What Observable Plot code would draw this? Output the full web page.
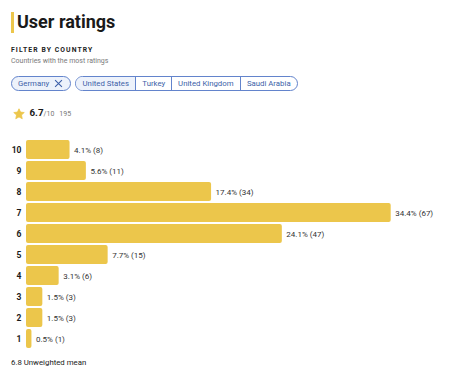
<!DOCTYPE html>
<html>
<head>
<meta charset="utf-8">
<script src="https://cdn.jsdelivr.net/npm/d3@7"></script>
<script src="https://cdn.jsdelivr.net/npm/@observablehq/plot@0.6"></script>
<style>
  html, body { margin: 0; padding: 0; background: #fff; }
  body { width: 462px; height: 386px; position: relative; font-family: Roboto, "Noto Sans", sans-serif; color: #1a1a1a; overflow: hidden; }
  .abs { position: absolute; line-height: 1; white-space: nowrap; }
  #accent { left: 11px; top: 12px; width: 2.5px; height: 21px; background: #ecc64b; }
  #title { left: 17px; top: 13px; font-size: 18px; font-weight: 700; color: #1a1a1a; }
  #filter { left: 11px; top: 47px; font-size: 6.8px; font-weight: 700; letter-spacing: 1.1px; color: #222; }
  #sub { left: 11px; top: 57.6px; font-size: 7px; color: #7a7a7a; }
  .pill { position: absolute; top: 76px; height: 15px; box-sizing: border-box; border: 1px solid #6384cc; border-radius: 8px; display: flex; align-items: stretch; overflow: hidden; font-size: 7.8px; color: #3d5fa8; }
  .pill span { display: flex; align-items: center; justify-content: center; box-sizing: border-box; }
  #germany { left: 11px; width: 60px; background: #edf2fb; padding-left: 6px; justify-content: flex-start; }
  #germany span { justify-content: flex-start; }
  #group { left: 75px; width: 223px; }
  #group span + span { border-left: 1px solid #6384cc; }
  #stats { left: 13px; top: 108px; display: flex; align-items: baseline; }
  #rating { font-size: 9.8px; font-weight: 700; color: #1a1a1a; margin-left: 4.5px; }
  #outof { font-size: 7px; color: #777; }
  #n { font-size: 7px; color: #777; margin-left: 5px; }
  #chart { position: absolute; left: 0; top: 130px; }
  #foot { left: 11px; top: 359.4px; font-size: 7.8px; color: #1a1a1a; font-weight: 400; }
</style>
</head>
<body>
<div id="accent" class="abs"></div>
<div id="title" class="abs"></div>
<div id="filter" class="abs"></div>
<div id="sub" class="abs"></div>
<div id="germany" class="pill"></div>
<div id="group" class="pill"></div>
<div id="stats" class="abs"></div>
<div id="chart"></div>
<div id="foot" class="abs"></div>
<script>
// ---- data ----
const titleText = "User ratings";
const filterLabel = "FILTER BY COUNTRY";
const filterSub = "Countries with the most ratings";
const selectedCountry = "Germany";
const otherCountries = ["United States", "Turkey", "United Kingdom", "Saudi Arabia"];
const otherWidths = [60, 36, 69, 58];
const averageRating = "6.7";
const ratingScale = "/10";
const totalRatings = "195";
const ratings = ["10", "9", "8", "7", "6", "5", "4", "3", "2", "1"];
const counts = [8, 11, 34, 67, 47, 15, 6, 3, 3, 1];
const percents = ["4.1", "5.6", "17.4", "34.4", "24.1", "7.7", "3.1", "1.5", "1.5", "0.5"];
const footText = "6.8 Unweighted mean";

const barColor = "#ecc64b";

// ---- header ----
document.getElementById("title").textContent = titleText;
document.getElementById("filter").textContent = filterLabel;
document.getElementById("sub").textContent = filterSub;

const g = document.getElementById("germany");
g.innerHTML = `<span>${selectedCountry}</span><span style="margin-left:5px"><svg width="9" height="9" viewBox="0 0 10 10"><path d="M1.2 1.2 L8.8 8.8 M8.8 1.2 L1.2 8.8" stroke="#3d5fa8" stroke-width="1.2" fill="none"/></svg></span>`;

const grp = document.getElementById("group");
otherCountries.forEach((c, i) => {
  const s = document.createElement("span");
  s.textContent = c;
  s.style.width = otherWidths[i] + "px";
  if (i === 0) s.style.background = "#edf2fb";
  grp.appendChild(s);
});

document.getElementById("stats").innerHTML =
  `<svg width="12" height="12" viewBox="0 0 24 24" style="align-self:center"><path d="M12 1.5 L15.1 8.2 L22.5 9 L17 14 L18.5 21.5 L12 17.8 L5.5 21.5 L7 14 L1.5 9 L8.9 8.2 Z" fill="${barColor}" stroke="${barColor}" stroke-width="1.5" stroke-linejoin="round"/></svg>` +
  `<span id="rating">${averageRating}</span><span id="outof">${ratingScale}</span><span id="n">${totalRatings}</span>`;

document.getElementById("foot").textContent = footText;

// ---- chart ----
const data = ratings.map((r, i) => ({rating: r, count: counts[i], label: `${percents[i]}% (${counts[i]})`}));

const chart = Plot.plot({
  width: 462,
  height: 228,
  marginTop: 5,
  marginBottom: 5,
  marginLeft: 26,
  marginRight: 71.3,
  style: {fontFamily: "Roboto, 'Noto Sans', sans-serif", background: "transparent"},
  x: {domain: [0, 67], axis: null},
  y: {domain: ratings, padding: 0.1, axis: null},
  marks: [
    Plot.barX(data, {x: "count", y: "rating", fill: barColor, rx: 2}),
    Plot.text(data, {x: "count", y: "rating", text: "label", textAnchor: "start", dx: 4, fontSize: 8, fill: "#333"}),
    Plot.axisY({tickSize: 0, tickPadding: 5, fontSize: 8.5, fontWeight: "bold", fill: "#1a1a1a", label: null})
  ]
});
document.getElementById("chart").appendChild(chart);
</script>
</body>
</html>
